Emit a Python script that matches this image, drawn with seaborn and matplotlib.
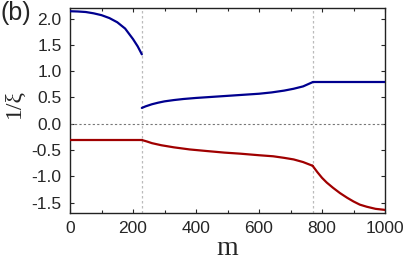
import pandas as pd
import matplotlib.pyplot as plt
import seaborn as sns

# values
m_a = [0, 25, 50, 75, 100, 125, 150, 175, 200, 215, 228]
blue_a = [2.14, 2.135, 2.125, 2.10, 2.065, 2.01, 1.93, 1.81, 1.61, 1.47, 1.32]
m_b = [228, 240, 260, 280, 300, 330, 360, 400, 450, 500, 550, 600, 640, 680, 710, 740, 770]
blue_b = [0.30, 0.33, 0.37, 0.40, 0.425, 0.45, 0.47, 0.49, 0.51, 0.53, 0.55, 0.57,
          0.595, 0.63, 0.665, 0.71, 0.79]
m_c = [770, 1000]
blue_c = [0.79, 0.79]

red_a_m = [0, 228]
red_a = [-0.31, -0.31]
red_b_m = [228, 245, 260, 290, 330, 380, 434, 490, 540, 600, 645, 680, 710, 740, 770]
red_b = [-0.31, -0.34, -0.37, -0.41, -0.45, -0.49, -0.52, -0.55, -0.57, -0.60,
         -0.62, -0.65, -0.68, -0.73, -0.80]
red_c_m = [770, 785, 800, 815, 835, 857, 880, 900, 920, 942, 970, 1000]
red_c = [-0.80, -0.92, -1.03, -1.12, -1.22, -1.32, -1.41, -1.48, -1.54, -1.58, -1.62, -1.64]

breaks = [228, 770]

sns.set_style("ticks")
plt.rcParams['font.family'] = ['Liberation Sans', 'DejaVu Sans']

fig = plt.figure(figsize=(4.07, 2.69), dpi=100)
ax = fig.add_axes([0.172, 0.208, 0.774, 0.762])

ax.axhline(0, color='#777777', lw=0.8, ls=(0, (2, 2)), zorder=1)
for b in breaks:
    ax.axvline(b, color='#bbbbbb', lw=0.9, ls=(0, (2, 2)), zorder=1)

blue = '#00008f'
red = '#a00000'
for xs, ys, c in [(m_a, blue_a, blue), (m_b, blue_b, blue), (m_c, blue_c, blue),
                  (red_a_m, red_a, red), (red_b_m, red_b, red), (red_c_m, red_c, red)]:
    df = pd.DataFrame({'m': xs, 'v': ys})
    sns.lineplot(data=df, x='m', y='v', color=c, lw=1.6, ax=ax, zorder=3)

ax.set_xlim(0, 1000)
ax.set_ylim(-1.7, 2.2)
ax.set_xticks([0, 200, 400, 600, 800, 1000])
ax.set_xticks(range(100, 1000, 200), minor=True)
ax.set_yticks([-1.5, -1.0, -0.5, 0.0, 0.5, 1.0, 1.5, 2.0])
ax.set_yticklabels(['-1.5', '-1.0', '-0.5', '0.0', '0.5', '1.0', '1.5', '2.0'])
ax.tick_params(direction='in', top=True, right=True, labelsize=12.5, length=3, width=0.8, pad=6)
ax.tick_params(which='minor', direction='in', top=True, length=2, width=0.8)
for s in ax.spines.values():
    s.set_linewidth(1.0)
    s.set_color('#222222')

ax.set_xlabel('m', family='Liberation Serif', fontsize=20, labelpad=0)
ax.set_ylabel('1/ξ', family='Liberation Serif', fontsize=17)
ax.yaxis.set_label_coords(-0.145, 0.535)
fig.text(0.0, 0.995, '(b)', fontsize=18, va='top')

fig.savefig('out.png', dpi=100)
